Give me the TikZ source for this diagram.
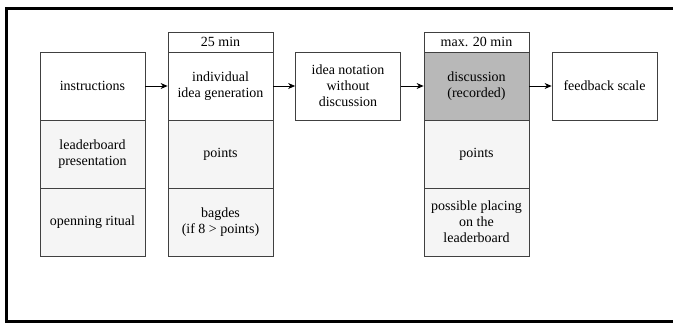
\documentclass[tikz,border=0pt]{standalone}
\usepackage{fontspec}
\setmainfont{Liberation Serif}
\usetikzlibrary{arrows.meta}
\definecolor{lightg}{HTML}{F5F5F5}
\definecolor{darkg}{HTML}{B8B8B8}
\begin{document}
\begin{tikzpicture}[x=1pt,y=-1pt,
  cell/.style={draw=black!75,line width=0.8pt,minimum width=105pt,minimum height=68pt,inner sep=0pt,align=center,font=\fontsize{14pt}{16pt}\selectfont},
  head/.style={draw=black!75,line width=0.8pt,minimum width=105pt,minimum height=20pt,inner sep=0pt,align=center,font=\fontsize{14pt}{16pt}\selectfont},
  arr/.style={line width=0.8pt,-{Stealth[length=7pt,width=6pt]}},
  frame/.style={line width=2.5pt}]
\useasboundingbox (0,0) rectangle (673,323);
\draw[frame] (673,8.5) -- (6.7,8.5) -- (6.7,321.5) -- (673,321.5);
% column 1
\node[cell,fill=white] (instr) at (92.5,86) {instructions};
\node[cell,fill=lightg] (leader) at (92.5,154) {leaderboard\\presentation};
\node[cell,fill=lightg] (ritual) at (92.5,222) {openning ritual};
% column 2
\node[head,fill=white] (h25) at (220.5,42) {25 min};
\node[cell,fill=white] (indiv) at (220.5,86) {individual\\idea generation};
\node[cell,fill=lightg] (points1) at (220.5,154) {points};
\node[cell,fill=lightg] (badges) at (220.5,222) {bagdes\\(if 8 > points)};
% box 3
\node[cell,fill=white] (notation) at (348,86) {idea notation\\without\\discussion};
% column 4
\node[head,fill=white] (h20) at (476.5,42) {max. 20 min};
\node[cell,fill=darkg] (disc) at (476.5,86) {discussion\\(recorded)};
\node[cell,fill=lightg] (points2) at (476.5,154) {points};
\node[cell,fill=lightg] (placing) at (476.5,222) {possible placing\\on the\\leaderboard};
% box 5
\node[cell,fill=white] (feed) at (604.5,86) {feedback scale};
% arrows
\draw[arr] (instr) -- (indiv);
\draw[arr] (indiv) -- (notation);
\draw[arr] (notation) -- (disc);
\draw[arr] (disc) -- (feed);
\end{tikzpicture}
\end{document}
